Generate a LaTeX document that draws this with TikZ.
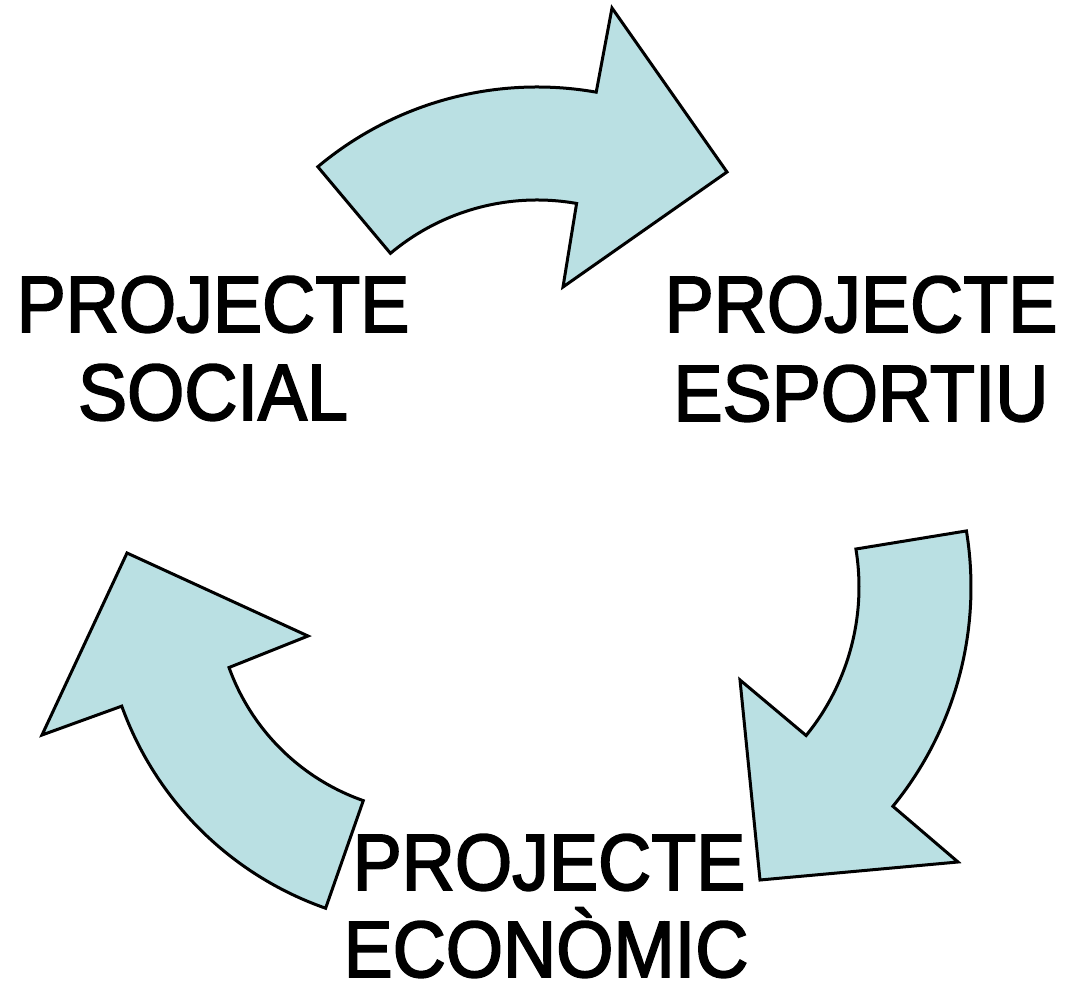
\documentclass[tikz,border=0pt]{standalone}
\usepackage{fontspec}
\setmainfont{Liberation Sans}[FakeBold=2.2,FakeStretch=0.92]
\usetikzlibrary{calc}
\definecolor{arrowfill}{HTML}{BAE0E3}
\tikzset{
  arrowshape/.style={draw=black, fill=arrowfill, line width=3pt, line join=miter},
  label/.style={inner sep=0pt, anchor=base, font=\fontsize{80}{88}\selectfont}
}
\begin{document}
\begin{tikzpicture}[x=1pt,y=1pt]
\useasboundingbox (0,0) rectangle (1065,983);
% top arrow
\coordinate (cT) at (537,555);
\coordinate (tW1) at (612,975);
\coordinate (tTip) at (727,811);
\coordinate (tW2) at (563,696);
\draw[arrowshape] ($(cT)+(130:341)$) arc[start angle=130,end angle=80,radius=341]
  -- (tW1) -- (tTip) -- (tW2) -- ($(cT)+(80:228)$) arc[start angle=80,end angle=130,radius=228] -- cycle;
% right arrow
\coordinate (cR) at (624,396);
\coordinate (rW1) at (958,121);
\coordinate (rTip) at (760,103);
\coordinate (rW2) at (740,303);
\draw[arrowshape] ($(cR)+(9.3:347)$) arc[start angle=9.3,end angle=-39.2,radius=347]
  -- (rW1) -- (rTip) -- (rW2) -- ($(cR)+(-39.2:235)$) arc[start angle=-39.2,end angle=9.3,radius=235] -- cycle;
% left arrow
\coordinate (cL) at (436,390);
\coordinate (lW1) at (42,248);
\coordinate (lTip) at (127,430);
\coordinate (lW2) at (308,347);
\draw[arrowshape] ($(cL)+(250.7:334)$) arc[start angle=250.7,end angle=199.8,radius=334]
  -- (lW1) -- (lTip) -- (lW2) -- ($(cL)+(199.8:220)$) arc[start angle=199.8,end angle=250.7,radius=220] -- cycle;
% labels
\node[label] (social1) at (213,651) {PROJECTE};
\node[label] (social2) at (213,563) {SOCIAL};
\node[label] (esport1) at (861,651) {PROJECTE};
\node[label] (esport2) at (861,562) {ESPORTIU};
\node[label] (econ1) at (549,93) {PROJECTE};
\node[label] (econ2) at (546,6) {ECONÒMIC};
\end{tikzpicture}
\end{document}
